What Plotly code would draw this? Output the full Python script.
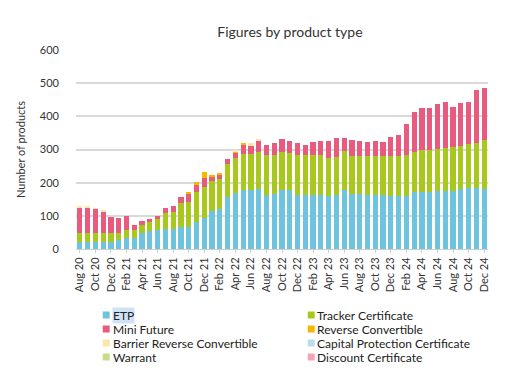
import plotly.graph_objects as go

months = ["Aug 20","Sep 20","Oct 20","Nov 20","Dec 20","Jan 21","Feb 21","Mar 21","Apr 21","May 21","Jun 21","Jul 21",
          "Aug 21","Sep 21","Oct 21","Nov 21","Dec 21","Jan 22","Feb 22","Mar 22","Apr 22","May 22","Jun 22","Jul 22",
          "Aug 22","Sep 22","Oct 22","Nov 22","Dec 22","Jan 23","Feb 23","Mar 23","Apr 23","May 23","Jun 23","Jul 23",
          "Aug 23","Sep 23","Oct 23","Nov 23","Dec 23","Jan 24","Feb 24","Mar 24","Apr 24","May 24","Jun 24","Jul 24",
          "Aug 24","Sep 24","Oct 24","Nov 24","Dec 24"]
tick_labels = months[::2]

etp = [20,20,20,20,20,27,33,34,47,53,57,60,60,65,67,82,92,115,120,158,168,177,177,182,164,167,179,177,164,164,164,164,
       159,162,177,165,165,164,164,164,160,160,160,173,173,173,176,176,176,180,183,183,180]
tracker = [29,28,28,28,28,21,23,23,25,27,32,50,52,75,75,91,96,90,90,97,105,110,110,110,118,115,113,112,120,118,118,118,
           116,115,120,115,115,116,116,116,120,120,123,120,125,125,127,130,132,130,134,138,149]
mini_future = [77,77,73,66,47,44,44,15,13,10,10,13,19,18,24,20,25,14,15,16,17,27,25,35,32,38,40,36,36,33,40,43,
               52,57,39,48,46,44,46,42,58,65,94,121,126,126,134,138,119,131,127,157,156]
reverse_conv = [0,0,0,0,0,0,0,0,0,0,0,0,0,0,4,10,20,4,2,0,5,5,0,0,0,0,0,0,0,0,0,0,
                0,0,0,0,0,0,0,0,0,0,0,0,0,0,0,0,0,0,0,0,0]
barrier_rc = [2,2,2,2,0,0,0,0,0,0,0,0,0,0,0,0,0,0,0,0,3,0,7,2,0,0,0,0,0,0,0,0,
              0,0,0,0,0,0,0,0,0,0,0,0,0,0,0,0,0,0,0,0,0]
capital_prot = [0]*len(months)
warrant = [0]*len(months)
discount = [0]*len(months)

series = [
    ("ETP", etp, "#6ec3de"),
    ("Tracker Certificate", tracker, "#a8c81e"),
    ("Mini Future", mini_future, "#e85b7e"),
    ("Reverse Convertible", reverse_conv, "#f5b800"),
    ("Barrier Reverse Convertible", barrier_rc, "#fde7a6"),
    ("Capital Protection Certificate", capital_prot, "#b9dcef"),
    ("Warrant", warrant, "#c7dd8a"),
    ("Discount Certificate", discount, "#f3a5b5"),
]
legend_left = ["ETP", "Mini Future", "Barrier Reverse Convertible", "Warrant"]
legend_right = ["Tracker Certificate", "Reverse Convertible", "Capital Protection Certificate", "Discount Certificate"]

fig = go.Figure()
for name, vals, col in series:
    fig.add_trace(go.Bar(x=months, y=vals, name=name, marker_color=col, marker_line_width=0))

# page has an 8px body margin: figure coords = page coords - 8
OFF = 8
FW, FH = 496, 365
L, R, T, B = 72 - OFF, 488 - OFF, 50 - OFF, 249 - OFF
W, H = R - L, B - T
def px(x): return (x - OFF - L) / W      # x given in page pixels
def py(y): return (B - (y - OFF)) / H    # y given in page pixels

colors = {n: c for n, _, c in series}
shapes, annos = [], []
row_y = [315, 329, 343, 357]
for col_names, sx, tx in ((legend_left, 99, 108), (legend_right, 306, 314)):
    for name, yy in zip(col_names, row_y):
        shapes.append(dict(type="rect", xref="paper", yref="paper",
                           x0=px(sx), x1=px(sx + 7), y0=py(yy + 3.5), y1=py(yy - 3.5),
                           fillcolor=colors[name], line=dict(width=0)))
        annos.append(dict(text=name, xref="paper", yref="paper", x=px(tx), y=py(yy),
                          xanchor="left", yanchor="middle", showarrow=False,
                          font=dict(size=12, color="#222222"),
                          bgcolor="#cfe2f7" if name == "ETP" else None, borderpad=0))

font_family = "Lato, 'Open Sans', sans-serif"
fig.update_layout(
    width=FW, height=FH,
    barmode="stack", bargap=0.33,
    paper_bgcolor="white", plot_bgcolor="white",
    margin=dict(l=L, r=FW - R, t=T, b=FH - B),
    font=dict(family=font_family, size=11, color="#333333"),
    title=dict(text="Figures by product type", x=px(288), xref="paper", xanchor="center",
               y=1 - (32 - OFF) / FH, yref="container", yanchor="middle", font=dict(size=14, color="#333333")),
    showlegend=False,
    shapes=shapes, annotations=annos,
)
fig.update_xaxes(type="category", tickmode="array", tickvals=tick_labels, ticktext=tick_labels,
                 tickangle=-90, showgrid=False, showline=True, linecolor="#d0d0d0", linewidth=1,
                 ticks="outside", ticklen=3, tickcolor="#d0d0d0", tickfont=dict(size=11, color="#333333"))
fig.update_yaxes(range=[0, 600], dtick=100, showgrid=True, gridcolor="#d9d9d9", gridwidth=1.5,
                 zeroline=False, showline=False, tickfont=dict(size=11, color="#333333"),
                 ticklabelstandoff=16,
                 title=dict(text="Number of products", font=dict(size=11, color="#333333"), standoff=12))

fig.write_html("out.html")
